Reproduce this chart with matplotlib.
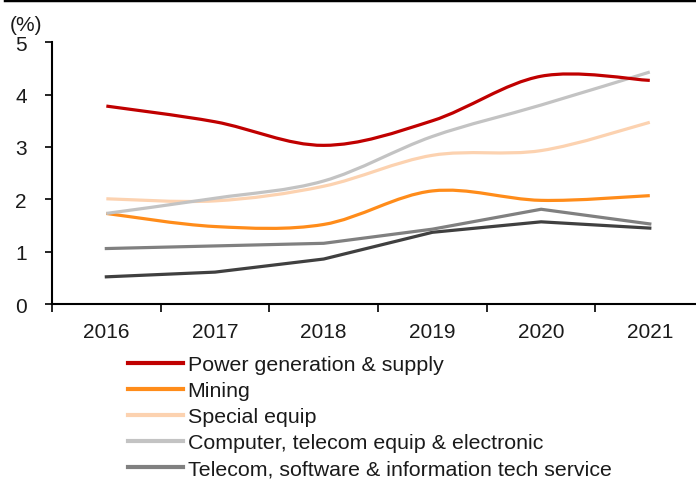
import matplotlib
matplotlib.use("Agg")
import matplotlib.pyplot as plt
from matplotlib.path import Path
from matplotlib.patches import PathPatch
from matplotlib.lines import Line2D

plt.rcParams['font.family'] = ['Liberation Sans', 'DejaVu Sans']

Years = ["2016", "2017", "2018", "2019", "2020", "2021"]

Power = [3.78, 3.48, 3.03, 3.50, 4.35, 4.27]
Mining = [1.73, 1.48, 1.52, 2.16, 1.98, 2.07]
SpecialEquip = [2.01, 1.97, 2.25, 2.84, 2.93, 3.47]
Computer = [1.73, 2.02, 2.35, 3.20, 3.80, 4.43]
TelecomSoft = [1.06, 1.11, 1.16, 1.43, 1.81, 1.53]
Other = [0.52, 0.61, 0.86, 1.37, 1.57, 1.45]

TickSize = 15
LegendSize = 15.4
TextColour = "#1a1a1a"

def SmoothPath(xs, ys):
    """Excel-style smoothed line: cubic Bezier through each point,
    control points from neighbouring points (Catmull-Rom)."""
    pts = list(zip(xs, ys))
    verts = [pts[0]]
    codes = [Path.MOVETO]
    n = len(pts)
    for i in range(n - 1):
        p0 = pts[i - 1] if i > 0 else pts[i]
        p1 = pts[i]
        p2 = pts[i + 1]
        p3 = pts[i + 2] if i + 2 < n else pts[i + 1]
        c1 = (p1[0] + (p2[0] - p0[0]) / 6, p1[1] + (p2[1] - p0[1]) / 6)
        c2 = (p2[0] - (p3[0] - p1[0]) / 6, p2[1] - (p3[1] - p1[1]) / 6)
        verts += [c1, c2, p2]
        codes += [Path.CURVE4] * 3
    return Path(verts, codes)

fig = plt.figure(figsize=(6.96, 4.85), dpi=100)
ax = fig.add_axes([0.0747, 0.371, 0.937, 0.540])

X = list(range(len(Years)))

# (values, colour, label, smoothed)
Series = [
    (Other, "#404040", None, False),
    (TelecomSoft, "#808080", "Telecom, software & information tech service", False),
    (Mining, "#FF8C1A", "Mining", True),
    (SpecialEquip, "#FCD2B0", "Special equip", True),
    (Computer, "#C3C3C3", "Computer, telecom equip & electronic", True),
    (Power, "#C00000", "Power generation & supply", True),
]

Handles = {}
for vals, col, lab, smooth in Series:
    if smooth:
        ax.add_patch(PathPatch(SmoothPath(X, vals), facecolor="none",
                               edgecolor=col, lw=2.3, capstyle="butt"))
    else:
        ax.plot(X, vals, color=col, lw=2.3, solid_joinstyle="miter")
    if lab:
        Handles[lab] = Line2D([], [], color=col, lw=3)

ax.set_xlim(-0.5, 5.5)
ax.set_ylim(0, 5)
ax.set_yticks(range(0, 6))
ax.tick_params(axis="y", labelsize=TickSize, length=5, width=1.2,
               direction="out", pad=13, labelcolor=TextColour)
ax.set_xticks(X)
ax.set_xticklabels(Years)
ax.set_xticks([i - 0.5 for i in range(len(Years) + 1)], minor=True)
ax.tick_params(axis="x", which="major", length=0, labelsize=TickSize, pad=13,
               labelcolor=TextColour)
ax.tick_params(axis="x", which="minor", length=6, width=1.2, direction="out")
for s in ["top", "right"]:
    ax.spines[s].set_visible(False)
for s in ["left", "bottom"]:
    ax.spines[s].set_linewidth(1.5)

fig.text(0.014, 0.948, "(%)", fontsize=TickSize, ha="left", va="center",
         color=TextColour)

Order = ["Power generation & supply", "Mining", "Special equip",
         "Computer, telecom equip & electronic",
         "Telecom, software & information tech service"]
fig.legend([Handles[k] for k in Order], Order, loc="upper left",
           bbox_to_anchor=(0.184, 0.266), frameon=False, fontsize=LegendSize,
           handlelength=2.55, handletextpad=0.24, labelspacing=0.33,
           borderaxespad=0, borderpad=0, labelcolor=TextColour)

# border line along the top edge
fig.add_artist(Line2D([0.007, 1.0], [0.997, 0.997], color="black", lw=2.5,
                      transform=fig.transFigure))

fig.savefig("out.png", dpi=100)
